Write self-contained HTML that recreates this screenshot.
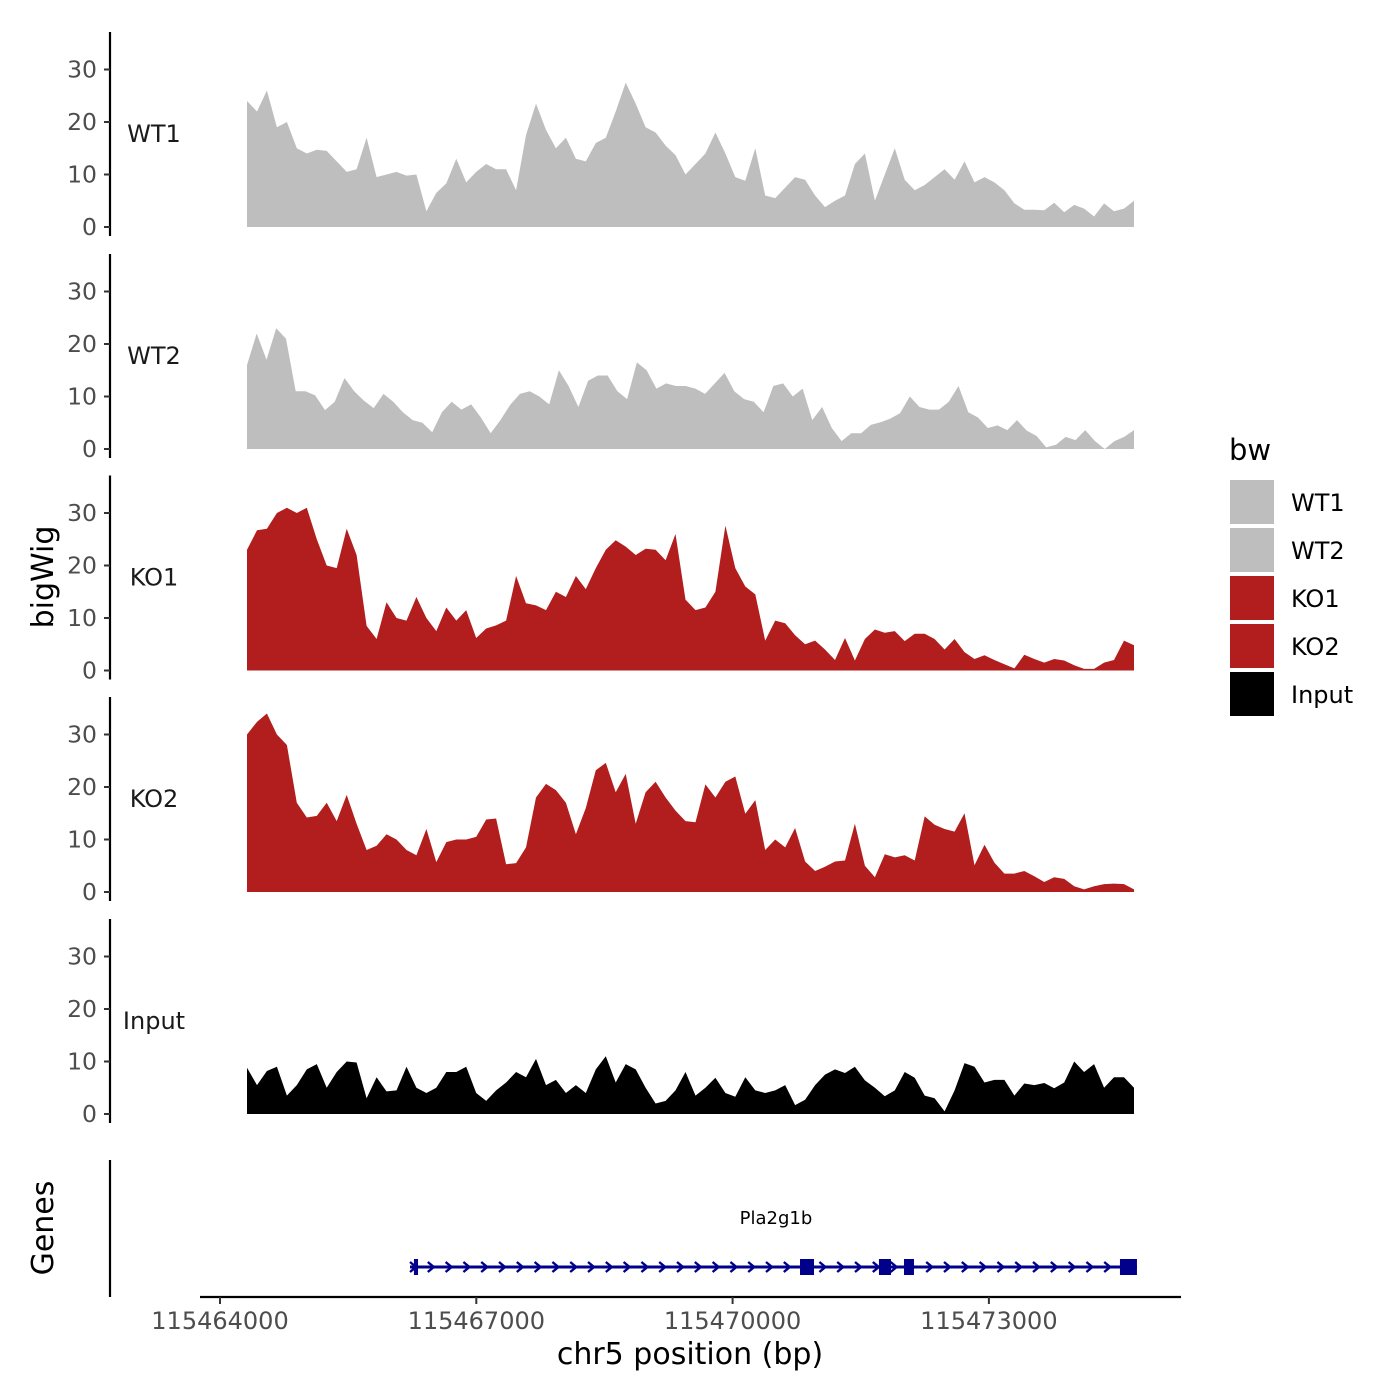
<!DOCTYPE html>
<html><head><meta charset="utf-8"><style>
html,body{margin:0;padding:0;background:#fff;}
svg{display:block;font-family:"DejaVu Sans","Liberation Sans",sans-serif;}
</style></head>
<body>
<svg id="chart" width="1400" height="1400" viewBox="0 0 1400 1400"></svg>
<script>
// ---- data ----
const trackNames = ["WT1","WT2","KO1","KO2","Input"];
const trackColors = ["#bebebe","#bebebe","#b21e1e","#b21e1e","#000000"];
const trackStart = 115464316;
const trackEnd = 115474698;
const yTicks = [0,10,20,30];
const xTicks = [115464000,115467000,115470000,115473000];
const wt1 = [24,22,26,19,20,15,14,14.7,14.5,12.5,10.5,11,17,9.5,10,10.5,9.8,10,3,6.5,8.3,13,8.5,10.5,12,11,11,7,17.5,23.5,18.5,15,17,13,12.5,16,17,22,27.5,23.5,19,18,15.5,13.7,10,12,14,18,14,9.5,8.8,15,6,5.5,7.5,9.5,9,6,3.8,5,6,12,14,5,10,15,9,7,8,9.5,11,9,12.5,8.5,9.5,8.5,7,4.5,3.3,3.3,3.2,4.6,2.8,4.2,3.5,2,4.5,3,3.5,5];
const wt2 = [16,22,17,23,21,11,11,10.2,7.4,9,13.5,11,9.2,7.8,10.5,9,7,5.5,5,3.2,7,9,7.5,8.5,6,3,5.5,8.4,10.5,11,10,8.5,15,12,8,13,14,14,11,9.5,16.5,15,11.5,12.5,12,12,11.5,10.5,12.5,14.5,11,9.5,9,7,12,12.5,10,11.5,5.5,8,4,1.5,3,3,4.6,5.1,5.8,6.8,10,8,7.5,7.5,9,12,7,6,4,4.5,3.6,5.5,3.5,2.5,0.3,0.8,2.3,1.7,3.6,1.5,0,1.5,2.3,3.6];
const ko1 = [23,26.7,27,30,31,30,31,25,20,19.5,27,22,8.5,6,13,10,9.5,14,10,7.5,12,9.5,11.5,6.2,8,8.6,9.5,18,12.8,12.4,11.5,15,14,18,15.5,19.5,23,24.8,23.6,22,23.2,23,21,26,13.5,11.5,12,15,27.6,19.5,16,14.5,5.7,9.5,9,6.7,5,5.7,4,2,6.2,1.9,6,7.8,7.2,7.5,5.6,7,7,6,4,6,3.5,2.2,2.9,2,1.2,0.4,3,2.2,1.5,2.2,1.9,1,0.3,0.3,1.5,2,5.7,4.8];
const ko2 = [30,32.4,34,30,28,17,14.2,14.5,17,13.5,18.5,13,8,8.8,11,10,8,7,12,5.7,9.5,10,10,10.5,13.8,14,5.3,5.5,8.5,18,20.6,19.4,17,11,16,23.2,24.6,19,22.5,13,19,21,18,15.5,13.5,13.3,20.5,18,21,22,14.9,17.5,8,10,8.5,12.2,5.8,4,4.8,5.8,6,13,5,2.8,7.2,6.6,7,6,14.4,12.8,12,11.5,15,5.1,9,5.6,3.5,3.5,4,3,1.9,2.8,2.5,1.1,0.5,1.1,1.5,1.6,1.5,0.5];
const input = [8.8,5.5,8.2,9,3.5,5.5,8.5,9.5,5,8,10,9.8,3,7,4.3,4.5,9,5,4,5,8,8,9,4,2.5,4.5,6,8,7,10.5,5.5,6.5,4,5.5,4,8.5,11,6,9.5,8.5,5,2,2.5,4.5,8,3.5,5,6.9,4,3.3,7,4.5,4,4.5,5.5,1.7,2.7,5.5,7.5,8.5,7.8,9,6.4,5,3.4,4.5,8,6.9,3.5,3,0.5,4.5,9.7,9,6,6.5,6.5,3.5,5.8,5.5,5.9,4.9,6,10,8,9.5,5,7,7,5];
const seriesValues = [wt1,wt2,ko1,ko2,input];
const geneName = "Pla2g1b";
const geneStart = 115466224;
const geneEnd = 115474733;
const exonStarts = [115466270,115470789,115471713,115472006,115474534];
const exonEnds = [115466318,115470953,115471854,115472123,115474733];

// ---- scales ----
const NS = "http://www.w3.org/2000/svg";
const svg = document.getElementById("chart");
const X0 = 115464000, PX0 = 220, PXPERBP = 256.3/3000;
function xs(bp){ return PX0 + (bp - X0)*PXPERBP; }
const panelZero = [227,449,670.5,892,1114];
const PXPERUNIT = 5.25;
function ys(k,v){ return panelZero[k] - v*PXPERUNIT; }
function mk(tag, attrs, parent){
  const e = document.createElementNS(NS, tag);
  for (const k in attrs) e.setAttribute(k, attrs[k]);
  (parent||svg).appendChild(e); return e;
}

// ---- panels ----
seriesValues.forEach((vals,k)=>{
  const g = mk("g",{});
  
  
  const n = vals.length;
  const step = (trackEnd - trackStart)/(n-1);
  let d = "M" + xs(trackStart).toFixed(1) + "," + ys(k,0);
  vals.forEach((v,i)=>{ d += " L" + xs(trackStart + i*step).toFixed(1) + "," + ys(k,v).toFixed(1); });
  d += " L" + xs(trackEnd).toFixed(1) + "," + ys(k,0) + " Z";
  const p = mk("path",{d:d, fill:trackColors[k]}, g);
  
  
  const ax = mk("line",{x1:110,x2:110,y1:panelZero[k]-195,y2:panelZero[k]+9,stroke:"#000","stroke-width":2.2}, g);
  
  
  yTicks.forEach(t=>{
    const y = ys(k,t);
    const tk = mk("line",{x1:104,x2:110,y1:y,y2:y,stroke:"#333","stroke-width":2}, g);
    
    
    const tl = mk("text",{x:97,y:y+8,"text-anchor":"end","font-size":23.5,fill:"#4d4d4d"}, g);
    tl.textContent = t;
    
    
  });
  const lb = mk("text",{x:154,y:panelZero[k]-85,"text-anchor":"middle","font-size":24,fill:"#1a1a1a"}, g);
  lb.textContent = trackNames[k];
  
  
});

const yt = mk("text",{x:0,y:0,transform:"translate(53,577) rotate(-90)","text-anchor":"middle","font-size":30,fill:"#000"});
yt.textContent = "bigWig";



// ---- genes panel ----
const gg = mk("g",{});


const gax = mk("line",{x1:110,x2:110,y1:1160,y2:1297,stroke:"#000","stroke-width":2.2}, gg);


const gt = mk("text",{x:0,y:0,transform:"translate(53,1228) rotate(-90)","text-anchor":"middle","font-size":30,fill:"#000"}, gg);
gt.textContent = "Genes";


const gl = mk("line",{x1:xs(geneStart),x2:xs(geneEnd),y1:1267,y2:1267,stroke:"#00008b","stroke-width":3}, gg);


for (let x = xs(geneStart)+3; x < xs(geneEnd)-6; x += 17.8){
  const ch = mk("polyline",{points:`${x-3},1262 ${x+3},1267 ${x-3},1272`,fill:"none",stroke:"#00008b","stroke-width":2.4}, gg);
  
  
}
exonStarts.forEach((s,i)=>{
  const x1 = xs(s), x2 = xs(exonEnds[i]);
  const r = mk("rect",{x:x1,y:1259,width:Math.max(4,x2-x1),height:16,fill:"#00008b"}, gg);
  
  
});
const gn = mk("text",{x:776,y:1224,"text-anchor":"middle","font-size":18,fill:"#000"}, gg);
gn.textContent = geneName;



// ---- x axis ----
const xa = mk("line",{x1:200,x2:1181,y1:1297,y2:1297,stroke:"#000","stroke-width":2.2});


xTicks.forEach(t=>{
  const x = xs(t);
  const tk = mk("line",{x1:x,x2:x,y1:1297,y2:1304,stroke:"#333","stroke-width":2});
  
  
  const tl = mk("text",{x:x,y:1329,"text-anchor":"middle","font-size":24,fill:"#4d4d4d"});
  tl.textContent = t;
  
  
});
const xt = mk("text",{x:690,y:1364,"text-anchor":"middle","font-size":30,fill:"#000"});
xt.textContent = "chr5 position (bp)";



// ---- legend ----
const lg = mk("g",{});


const lt = mk("text",{x:1229,y:460,"font-size":29,fill:"#000"}, lg);
lt.textContent = "bw";


trackNames.forEach((nm,i)=>{
  const y = 480 + i*48;
  const r = mk("rect",{x:1230,y:y,width:44,height:44,fill:trackColors[i]}, lg);
  
  
  const t = mk("text",{x:1291,y:y+31,"font-size":24,fill:"#000"}, lg);
  t.textContent = nm;
  
  
});
</script>
</body></html>
